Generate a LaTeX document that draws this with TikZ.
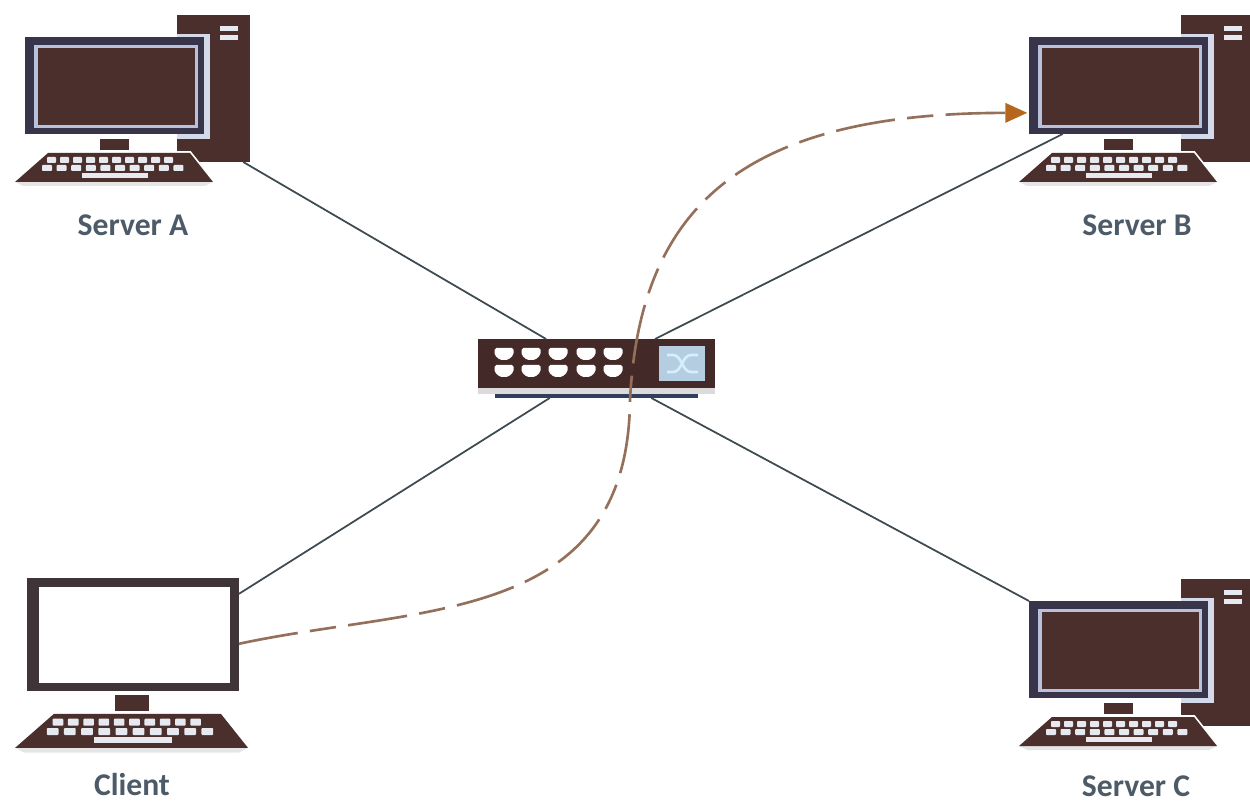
\documentclass[tikz,border=0pt]{standalone}
\usepackage{fontspec}
\setmainfont{Carlito}
\usetikzlibrary{arrows.meta}

\definecolor{pcbrown}{HTML}{4A2F2C}
\definecolor{pcnavy}{HTML}{38344A}
\definecolor{pcframe}{HTML}{B9C2DC}
\definecolor{pcdark}{HTML}{3F3538}
\definecolor{keywhite}{HTML}{E6EAF0}
\definecolor{swscreen}{HTML}{B4CDE0}
\definecolor{swicon}{HTML}{D6EDFB}
\definecolor{swbase}{HTML}{2F3F5C}
\definecolor{linkgrey}{HTML}{3E4A50}
\definecolor{flowbrown}{HTML}{94705A}
\definecolor{flowtip}{HTML}{B5671F}
\definecolor{labelgrey}{HTML}{4D5A68}

\tikzset{
    pcbox/.style={rectangle, inner sep=0pt, outer sep=0pt},
    link/.style={linkgrey, line width=1pt},
    flow/.style={flowbrown, line width=1.5pt, dash pattern=on 34pt off 7pt on 15pt off 7pt,
        -{Triangle[length=12.5pt, width=11pt, color=flowtip, fill=flowtip]}},
    pclabel/.style={labelgrey, inner sep=0pt, font=\fontsize{18}{20}\selectfont\bfseries}
}

% Keyboard with its two rows of keys
\newcommand{\pckeyboard}{
    \filldraw[white, line width=2pt] (15,182) -- (48,153) -- (190,153) -- (213,182) -- cycle;
    \fill[black!10] (15,182) -- (213,182) -- (205,186) -- (23,186) -- cycle;
    \fill[pcbrown] (15,182) -- (48,153) -- (190,153) -- (213,182) -- cycle;
    \foreach \k in {0,...,9}
        \fill[keywhite, rounded corners=0.5pt] ({47+\k*13},157) rectangle +(9,6);
    \foreach \k in {0,...,9}
        \fill[keywhite, rounded corners=0.5pt] ({42+\k*14.6},165) rectangle +(10,6);
    \fill[keywhite] (82,173) rectangle (148,178);
}

% Server: tower, monitor, stand and keyboard
\newcommand{\serverpc}[3]{
    \begin{scope}[shift={(#2,#3)}]
        \node[pcbox, fill=pcbrown, minimum width=1.46cm, minimum height=2.94cm] (tower#1) at (213.5,88.5) {};
        \fill[keywhite] (220,26) rectangle (238,31);
        \fill[keywhite] (220,35) rectangle (238,40);
        \fill[pcframe!60!white] (177,34) rectangle (210,139);
        \node[pcbox, fill=pcnavy, minimum width=3.58cm, minimum height=1.94cm] (monitor#1) at (114.5,85.5) {};
        \fill[pcframe] (34,45) rectangle (198,128);
        \fill[pcbrown] (37.5,48) rectangle (194.5,125);
        \fill[white] (90,139) rectangle (177,153);
        \fill[pcbrown] (100,139) rectangle (129,150);
        \pckeyboard
    \end{scope}
}

\begin{document}
\begin{tikzpicture}[x=0.02cm, y=-0.02cm]
    \clip (0,0) rectangle (1250,803);
    \fill[white] (0,0) rectangle (1250,803);

    % Servers
    \serverpc{A}{0}{0}
    \serverpc{B}{1004}{0}
    \serverpc{C}{1004}{564}

    % Client
    \node[pcbox, fill=pcdark, minimum width=4.24cm, minimum height=2.26cm] (monitorD) at (133,634.5) {};
    \fill[white] (39,587) rectangle (230,683);
    \fill[pcbrown] (115,695) rectangle (149,711);
    \begin{scope}[shift={(-2.65,534.7)}, x=0.02354cm, y=-0.02344cm]
        \pckeyboard
    \end{scope}

    % Switch
    \node[pcbox, minimum width=4.74cm, minimum height=1.18cm] (hub) at (596.5,368.5) {};
    \fill[pcbrown!90!black] (478,339) rectangle (715,388);
    \fill[black!14] (478,388) rectangle (715,394);
    \fill[swbase] (495,394) rectangle (698,398);
    \fill[swscreen] (659,346) rectangle (705,381);
    \foreach \c in {504,531,558,586,613}
        \foreach \r in {354,371}
            \fill[white, rounded corners=1pt, shift={(\c,\r)}]
                (-9.5,-6) -- (9.5,-6) -- (9.5,1) -- (4,6) -- (-4,6) -- (-9.5,1) -- cycle;
    \draw[swicon, line width=1.5pt] (667,355) -- (673,355) .. controls (682,355) and (682,372) .. (691,372) -- (698,372);
    \draw[swicon, line width=1.5pt] (667,372) -- (673,372) .. controls (682,372) and (682,355) .. (691,355) -- (698,355);

    % Links to the switch
    \draw[link] (hub) -- (towerA.-68);
    \draw[link] (hub) -- (monitorB.-139);
    \draw[link] (hub) -- (monitorC.north west);
    \draw[link] (hub) -- (monitorD.21);

    % Traffic from client to server B
    \coordinate (bend) at (630,400);
    \draw[flow, shorten >=1pt] (monitorD.-5) .. controls (420,605) and (628,625) .. (bend)
        .. controls (640,205) and (745,113) .. (monitorB.-163);

    % Labels
    \node[pclabel] (labelA) at (133,225) {Server A};
    \node[pclabel] (labelB) at (1137,225) {Server B};
    \node[pclabel] (labelC) at (1136,786) {Server C};
    \node[pclabel] (labelD) at (132,785) {Client};
\end{tikzpicture}
\end{document}
